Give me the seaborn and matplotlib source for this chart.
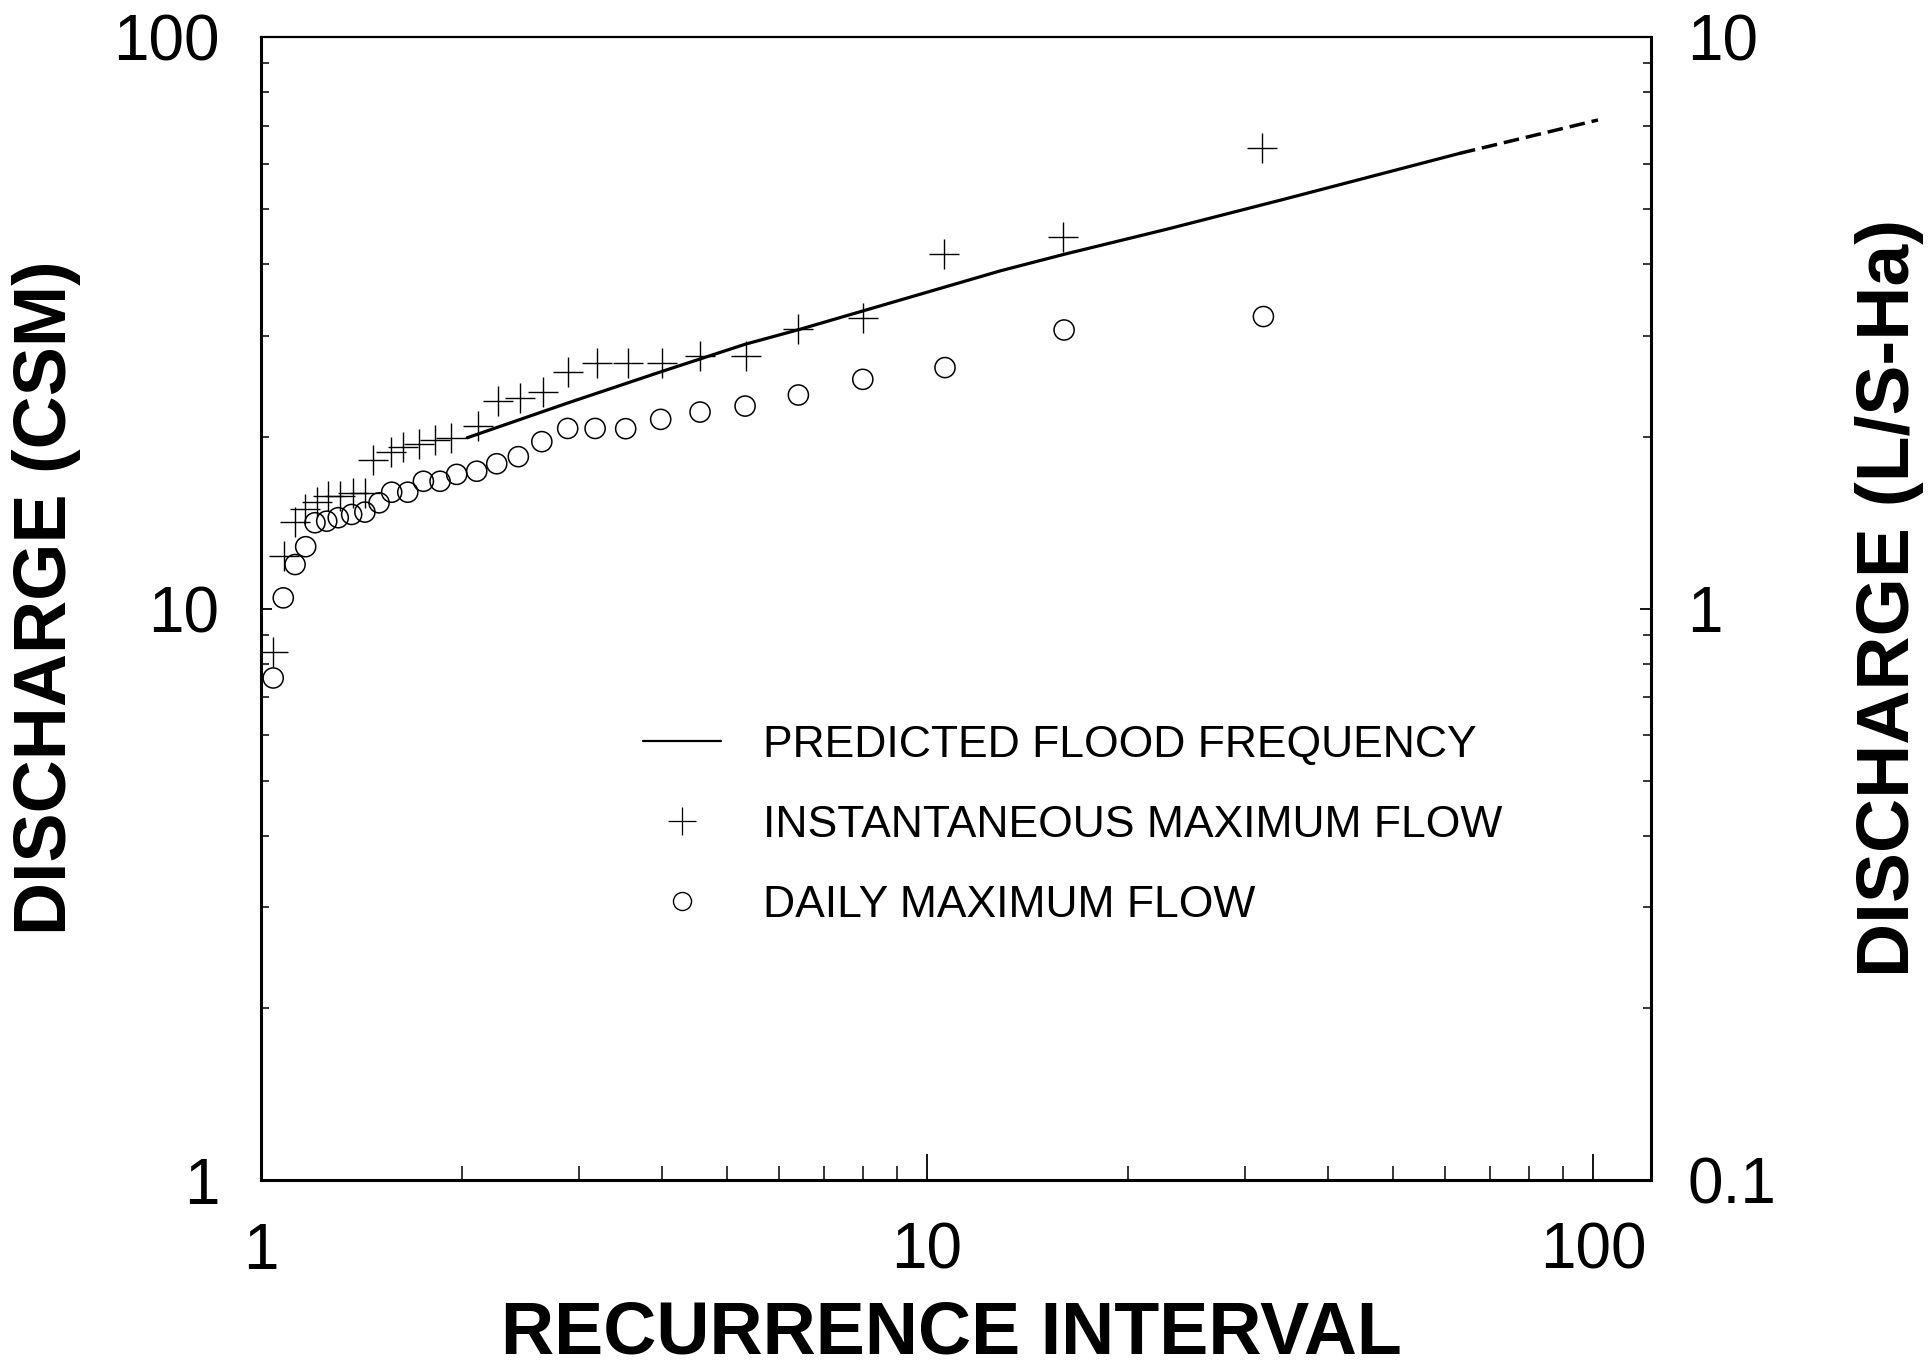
import matplotlib
matplotlib.use("Agg")
import matplotlib.pyplot as plt
from matplotlib.lines import Line2D
from matplotlib.ticker import LogLocator, NullFormatter, FixedLocator, FixedFormatter
import pandas as pd
import seaborn as sns

# instantaneous maximum flow: recurrence interval vs discharge (CSM)
ri_inst = [1.043, 1.084, 1.125, 1.164, 1.212, 1.262, 1.314, 1.373, 1.433, 1.473,
           1.565, 1.634, 1.726, 1.825, 1.929, 2.12, 2.27, 2.45, 2.65, 2.89,
           3.19, 3.56, 4.0, 4.56, 5.34, 6.41, 8.0, 10.6, 16.0, 31.8]
q_inst = [8.38, 12.35, 14.17, 14.91, 15.36, 15.73, 15.73, 15.95, 15.95, 18.2,
          18.8, 19.2, 19.4, 19.7, 19.9, 20.9, 23.1, 23.4, 23.9, 25.9,
          26.9, 26.9, 26.9, 27.7, 27.7, 30.8, 32.2, 41.7, 44.6, 63.9]

# daily maximum flow
ri_daily = [1.043, 1.080, 1.125, 1.167, 1.205, 1.255, 1.306, 1.368, 1.432, 1.504,
            1.571, 1.661, 1.753, 1.857, 1.967, 2.108, 2.259, 2.434, 2.640, 2.887,
            3.174, 3.528, 3.982, 4.562, 5.331, 6.409, 8.008, 10.64, 16.06, 31.99]
q_daily = [7.56, 10.44, 11.94, 12.83, 14.13, 14.22, 14.42, 14.61, 14.75, 15.31,
           15.98, 15.98, 16.70, 16.70, 17.17, 17.39, 17.92, 18.44, 19.59, 20.66,
           20.66, 20.64, 21.43, 22.07, 22.61, 23.64, 25.18, 26.40, 30.72, 32.43]

# predicted flood frequency curve, solid part then extrapolated (dashed)
ri_pred = [2.04, 2.89, 4.0, 5.33, 6.44, 12.9, 16.1, 22.9, 34.3, 63.1]
q_pred = [19.9, 22.9, 26.0, 29.0, 30.8, 39.0, 41.7, 46.1, 52.0, 62.6]
ri_ext = [63.1, 101.7]
q_ext = [62.6, 71.6]

sns.set_theme(style="ticks")
plt.rcParams['font.family'] = ['Liberation Sans', 'DejaVu Sans']
plt.rcParams['text.color'] = 'black'

fig = plt.figure(figsize=(19.32, 13.72), dpi=100)
ax = fig.add_axes([0.1351, 0.1399, 0.7195, 0.8331])
ax.set_xscale('log')
ax.set_yscale('log')

pred = pd.DataFrame({'ri': ri_pred, 'q': q_pred})
ext = pd.DataFrame({'ri': ri_ext, 'q': q_ext})
inst = pd.DataFrame({'ri': ri_inst, 'q': q_inst})
daily = pd.DataFrame({'ri': ri_daily, 'q': q_daily})

sns.lineplot(data=pred, x='ri', y='q', ax=ax, color='black', lw=2.3,
             estimator=None, sort=False)
sns.lineplot(data=ext, x='ri', y='q', ax=ax, color='black', lw=2.5,
             estimator=None, sort=False, linestyle=(0, (4.5, 2)))
sns.scatterplot(data=inst, x='ri', y='q', ax=ax, marker='+', s=440,
                color='black', linewidth=1.0)
sns.scatterplot(data=daily, x='ri', y='q', ax=ax, marker='o', s=210,
                facecolors='none', edgecolor='black', linewidth=1.1)

ax.set_xlim(1, 122.2)
ax.set_ylim(1, 100)
ax.set_xlabel('')
ax.set_ylabel('')

for side in ['left', 'bottom', 'right', 'top']:
    ax.spines[side].set_linewidth(2.2)
    ax.spines[side].set_color('black')
ax.spines['top'].set_linewidth(1.6)

ax.xaxis.set_major_locator(FixedLocator([1, 10, 100]))
ax.xaxis.set_major_formatter(FixedFormatter(['1', '10', '100']))
ax.xaxis.set_minor_locator(LogLocator(base=10, subs=range(2, 10)))
ax.xaxis.set_minor_formatter(NullFormatter())
ax.yaxis.set_major_locator(FixedLocator([1, 10, 100]))
ax.yaxis.set_major_formatter(FixedFormatter(['1', '10', '100']))
ax.yaxis.set_minor_locator(LogLocator(base=10, subs=range(2, 10)))
ax.yaxis.set_minor_formatter(NullFormatter())

ax.tick_params(which='both', direction='in', top=False, right=False,
               color='black', labelcolor='black')
ax.tick_params(axis='x', which='major', length=19, width=1.3, pad=30, labelsize=46)
ax.tick_params(axis='x', which='minor', length=10, width=1.1)
ax.tick_params(axis='y', which='major', length=8, width=1.3, pad=30, labelsize=46)
ax.tick_params(axis='y', which='minor', length=6, width=1.1)

ax2 = ax.twinx()
ax2.set_yscale('log')
ax2.set_ylim(0.1, 10)
ax2.yaxis.set_major_locator(FixedLocator([0.1, 1, 10]))
ax2.yaxis.set_major_formatter(FixedFormatter(['0.1', '1', '10']))
ax2.yaxis.set_minor_locator(LogLocator(base=10, subs=range(2, 10)))
ax2.yaxis.set_minor_formatter(NullFormatter())
ax2.tick_params(which='both', direction='in', color='black', labelcolor='black')
ax2.tick_params(which='major', length=8, width=1.3, pad=26, labelsize=46)
ax2.tick_params(which='minor', length=6, width=1.1)
for s in ax2.spines.values():
    s.set_visible(False)

handles = [
    Line2D([], [], color='black', lw=1.6),
    Line2D([], [], color='black', marker='+', ls='none', markersize=20, markeredgewidth=0.9),
    Line2D([], [], color='black', marker='o', ls='none', markersize=13,
           markerfacecolor='none', markeredgewidth=1.0),
]
labels = ['PREDICTED FLOOD FREQUENCY', 'INSTANTANEOUS MAXIMUM FLOW', 'DAILY MAXIMUM FLOW']
ax.legend(handles, labels, loc='upper left', bbox_to_anchor=(0.275, 0.3985),
          frameon=False, borderpad=0, borderaxespad=0, handlelength=1.75,
          handletextpad=0.95, labelspacing=0.88, fontsize=32, labelcolor='black')

fig.text(951 / 1932, 1 - 1334 / 1372, 'RECURRENCE INTERVAL', ha='center', va='center',
         fontsize=53, fontweight='bold', color='black')
fig.text(47 / 1932, 1 - 598 / 1372, 'DISCHARGE (CSM)', ha='center', va='center',
         rotation=90, fontsize=53, fontweight='bold', color='black')
fig.text(1889 / 1932, 1 - 598 / 1372, 'DISCHARGE (L/S-Ha)', ha='center', va='center',
         rotation=90, fontsize=54, fontweight='bold', color='black')

fig.savefig('out.png', dpi=100, facecolor='white')
